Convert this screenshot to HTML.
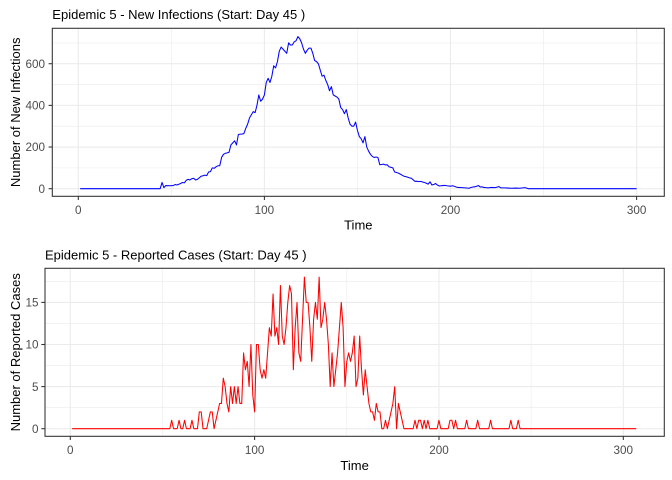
<!DOCTYPE html>
<html><head><meta charset="utf-8"><style>
html,body{margin:0;padding:0;background:#fff;}
svg{display:block;}
text{font-family:"Liberation Sans",Arial,sans-serif;}
</style></head><body>
<svg width="672" height="480" viewBox="0 0 672 480" xmlns="http://www.w3.org/2000/svg">
<rect width="672" height="480" fill="#fff"/>

<!-- ===== TOP PANEL ===== -->
<text x="52.3" y="19" font-size="13" fill="#000">Epidemic 5 - New Infections (Start: Day 45 )</text>
<g stroke="#EBEBEB" stroke-width="0.6" fill="none">
<line x1="171.35" y1="28.3" x2="171.35" y2="196.3"/><line x1="357.45" y1="28.3" x2="357.45" y2="196.3"/><line x1="543.55" y1="28.3" x2="543.55" y2="196.3"/>
<line x1="52.3" y1="167.87" x2="664.3" y2="167.87"/><line x1="52.3" y1="126.21" x2="664.3" y2="126.21"/><line x1="52.3" y1="84.55" x2="664.3" y2="84.55"/><line x1="52.3" y1="42.89" x2="664.3" y2="42.89"/>
</g>
<g stroke="#EBEBEB" stroke-width="1.1" fill="none">
<line x1="78.3" y1="28.3" x2="78.3" y2="196.3"/><line x1="264.4" y1="28.3" x2="264.4" y2="196.3"/><line x1="450.5" y1="28.3" x2="450.5" y2="196.3"/><line x1="636.6" y1="28.3" x2="636.6" y2="196.3"/>
<line x1="52.3" y1="188.7" x2="664.3" y2="188.7"/><line x1="52.3" y1="147.04" x2="664.3" y2="147.04"/><line x1="52.3" y1="105.38" x2="664.3" y2="105.38"/><line x1="52.3" y1="63.72" x2="664.3" y2="63.72"/>
</g>
<g transform="translate(78.3 188.7) scale(1.861 -0.2083)">
<polyline vector-effect="non-scaling-stroke" fill="none" stroke="#0000FF" stroke-width="1.05" stroke-linejoin="round"
points="1,0 44,0 45,30 46,5 47,15 49,14 51,15 52,20 53,18 55,25 56,30 57,28 58,40 59,45 60,42 61,48 62,50 63,42 64,45 65,52 66,60 67,62 68,65 69,63 70,80 71,82 72,100 73,98 74,105 75,110 76,110 77,150 78,165 79,170 80,172 81,175 82,210 83,220 84,230 85,210 86,260 87,262 88,262 89,265 90,290 91,310 92,340 93,355 94,370 95,365 96,400 97,450 98,420 99,430 100,450 101,510 102,530 103,510 104,540 105,590 106,580 107,610 108,660 109,680 110,670 111,660 112,650 113,700 114,690 115,690 116,705 117,710 118,730 119,720 120,700 121,670 122,650 123,665 124,675 125,675 126,650 127,615 128,610 129,600 130,570 131,540 132,545 133,520 134,500 135,470 136,490 137,450 138,445 139,440 140,430 141,390 142,380 143,360 144,380 145,340 146,310 147,300 148,300 149,320 150,280 151,250 152,240 153,220 154,250 155,200 156,180 157,165 158,155 159,150 160,152 161,150 162,115 163,116 164,118 165,114 166,115 167,105 168,103 169,100 170,80 171,78 172,75 173,70 174,65 175,60 176,58 177,55 178,52 179,50 180,42 181,35 182,36 183,34 184,35 185,32 186,30 187,26 188,22 189,33 190,18 191,20 192,25 193,17 194,13 195,14 196,15 197,16 198,14 199,13 200,12 201,14 202,12 203,8 204,6 206,5 208,4 210,2 211,6 212,8 213,9 214,12 215,15 216,8 217,9 218,6 219,5 220,4 222,6 224,5 226,10 227,4 229,4 231,3 233,2 235,3 237,2 240,5 242,0 300,0"/>
</g>
<rect x="52.3" y="28.3" width="612" height="168" fill="none" stroke="#333333" stroke-width="1.07"/>
<g stroke="#333333" stroke-width="1.07">
<line x1="48.6" y1="188.7" x2="52.3" y2="188.7"/><line x1="48.6" y1="147.04" x2="52.3" y2="147.04"/><line x1="48.6" y1="105.38" x2="52.3" y2="105.38"/><line x1="48.6" y1="63.72" x2="52.3" y2="63.72"/>
<line x1="78.3" y1="196.3" x2="78.3" y2="200"/><line x1="264.4" y1="196.3" x2="264.4" y2="200"/><line x1="450.5" y1="196.3" x2="450.5" y2="200"/><line x1="636.6" y1="196.3" x2="636.6" y2="200"/>
</g>
<g font-size="11.7" fill="#4D4D4D" text-anchor="end">
<text x="45" y="192.9">0</text><text x="45" y="151.2">200</text><text x="45" y="109.6">400</text><text x="45" y="67.9">600</text>
</g>
<g font-size="11.7" fill="#4D4D4D" text-anchor="middle">
<text x="78.3" y="214.2">0</text><text x="264.4" y="214.2">100</text><text x="450.5" y="214.2">200</text><text x="636.6" y="214.2">300</text>
</g>
<text x="358.3" y="229.5" font-size="13" text-anchor="middle" fill="#000">Time</text>
<text transform="translate(20 112.3) rotate(-90)" font-size="13" text-anchor="middle" fill="#000">Number of New Infections</text>

<!-- ===== BOTTOM PANEL ===== -->
<text x="45" y="259.3" font-size="13" fill="#000">Epidemic 5 - Reported Cases (Start: Day 45 )</text>
<g stroke="#EBEBEB" stroke-width="0.6" fill="none">
<line x1="162.5" y1="268.3" x2="162.5" y2="436.3"/><line x1="346.8" y1="268.3" x2="346.8" y2="436.3"/><line x1="531.1" y1="268.3" x2="531.1" y2="436.3"/>
<line x1="45" y1="407.65" x2="664.3" y2="407.65"/><line x1="45" y1="365.55" x2="664.3" y2="365.55"/><line x1="45" y1="323.45" x2="664.3" y2="323.45"/><line x1="45" y1="281.35" x2="664.3" y2="281.35"/>
</g>
<g stroke="#EBEBEB" stroke-width="1.1" fill="none">
<line x1="70.3" y1="268.3" x2="70.3" y2="436.3"/><line x1="254.6" y1="268.3" x2="254.6" y2="436.3"/><line x1="439" y1="268.3" x2="439" y2="436.3"/><line x1="623.3" y1="268.3" x2="623.3" y2="436.3"/>
<line x1="45" y1="428.7" x2="664.3" y2="428.7"/><line x1="45" y1="386.6" x2="664.3" y2="386.6"/><line x1="45" y1="344.5" x2="664.3" y2="344.5"/><line x1="45" y1="302.4" x2="664.3" y2="302.4"/>
</g>
<g transform="translate(70.3 428.7) scale(1.8433 -8.42)">
<polyline vector-effect="non-scaling-stroke" fill="none" stroke="#FF0000" stroke-width="1.05" stroke-linejoin="round"
points="1,0 54,0 55,1 56,0 58,0 59,1 60,0 61,0 62,1 63,0 65,0 66,1 67,0 69,0 70,2 71,2 72,0 74,0 75,1 76,2 77,2 78,0 79,1 80,2 81,3 82,3 83,6 84,5 85,3 86,2 87,5 88,3 89,5 90,3 91,5 92,3 93,3 94,9 95,7 96,8 97,5 98,10 99,4 100,2 101,10 102,10 103,7 104,6 105,7 106,6 107,9 108,12 109,11 110,16 111,11 112,12 113,10 114,17 115,11 116,10 117,12 118,15 119,17 120,16 121,7 122,12 123,15 124,9 125,8 126,13 127,18 128,15 129,15 130,12 131,8 132,13 133,15 134,13 135,18 136,12 137,13 138,15 139,13 140,10 141,5 142,9 143,5 144,7 145,9 146,12 147,15 148,12 149,5 150,8 151,9 152,8 153,9 154,11 155,5 156,6 157,11 158,7 159,4 160,7 161,5 162,3 163,2 164,2 165,1 166,3 167,2 168,2 169,0 170,0 171,1 172,0 173,1 174,2 175,3 176,5 177,0 178,3 179,2 180,1 181,0 186,0 187,1 188,0 189,1 190,1 191,0 192,1 193,0 194,1 195,0 199,0 200,1 201,0 205,0 206,1 207,1 208,0 209,1 210,0 214,0 215,1 216,0 220,0 221,1 222,0 227,0 228,1 229,0 238,0 239,1 240,0 242,0 243,1 244,0 307,0"/>
</g>
<rect x="45" y="268.3" width="619.3" height="168" fill="none" stroke="#333333" stroke-width="1.07"/>
<g stroke="#333333" stroke-width="1.07">
<line x1="41.3" y1="428.7" x2="45" y2="428.7"/><line x1="41.3" y1="386.6" x2="45" y2="386.6"/><line x1="41.3" y1="344.5" x2="45" y2="344.5"/><line x1="41.3" y1="302.4" x2="45" y2="302.4"/>
<line x1="70.3" y1="436.3" x2="70.3" y2="440"/><line x1="254.6" y1="436.3" x2="254.6" y2="440"/><line x1="439" y1="436.3" x2="439" y2="440"/><line x1="623.3" y1="436.3" x2="623.3" y2="440"/>
</g>
<g font-size="11.7" fill="#4D4D4D" text-anchor="end">
<text x="38.5" y="432.9">0</text><text x="38.5" y="390.8">5</text><text x="38.5" y="348.7">10</text><text x="38.5" y="306.6">15</text>
</g>
<g font-size="11.7" fill="#4D4D4D" text-anchor="middle">
<text x="70.3" y="454.2">0</text><text x="254.6" y="454.2">100</text><text x="439" y="454.2">200</text><text x="623.3" y="454.2">300</text>
</g>
<text x="354.6" y="470" font-size="13" text-anchor="middle" fill="#000">Time</text>
<text transform="translate(20 352.3) rotate(-90)" font-size="13" text-anchor="middle" fill="#000">Number of Reported Cases</text>
</svg>
</body></html>
